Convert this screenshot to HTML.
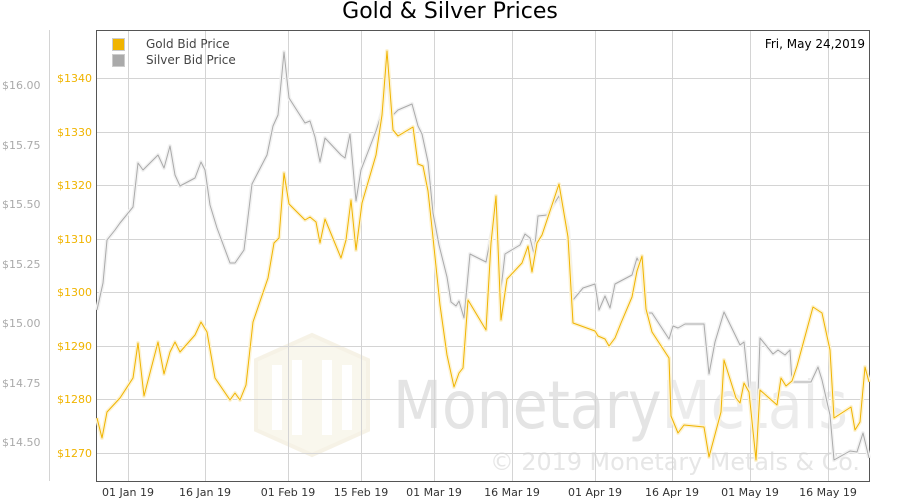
<!DOCTYPE html>
<html><head><meta charset="utf-8"><style>
html,body{margin:0;padding:0;background:#fff;}
svg{display:block;font-family:"DejaVu Sans","Liberation Sans",sans-serif;}
</style></head><body>
<svg width="900" height="500" xmlns="http://www.w3.org/2000/svg">
<rect width="900" height="500" fill="#fff"/>
<text x="450" y="18" text-anchor="middle" font-size="22" fill="#000">Gold &amp; Silver Prices</text>
<g opacity="0.22">
<polygon points="312,335 368,360 368,430 312,455 256,430 256,360" fill="#e8dcb0" stroke="#d8c890" stroke-width="4"/>
<rect x="272" y="365" width="10" height="65" fill="#fff"/><rect x="292" y="360" width="10" height="75" fill="#fff"/><rect x="322" y="360" width="10" height="75" fill="#fff"/><rect x="342" y="365" width="10" height="65" fill="#fff"/>
</g>
<text x="393" y="428" font-size="66" fill="#e4e4e4" textLength="455" lengthAdjust="spacingAndGlyphs">Monetary<tspan fill="#ececec">Metals</tspan></text>
<text x="490" y="470" font-size="24" fill="#e6e6e6" textLength="370" lengthAdjust="spacingAndGlyphs">© 2019 Monetary Metals &amp; Co.</text>
<g stroke="#d4d4d4" stroke-width="1">
<line x1="96" x2="870" y1="78.5" y2="78.5"/><line x1="96" x2="870" y1="132.5" y2="132.5"/><line x1="96" x2="870" y1="185.5" y2="185.5"/><line x1="96" x2="870" y1="239.5" y2="239.5"/><line x1="96" x2="870" y1="292.5" y2="292.5"/><line x1="96" x2="870" y1="346.5" y2="346.5"/><line x1="96" x2="870" y1="399.5" y2="399.5"/><line x1="96" x2="870" y1="453.5" y2="453.5"/>
<line y1="30" y2="481" x1="128.5" x2="128.5"/><line y1="30" y2="481" x1="205.5" x2="205.5"/><line y1="30" y2="481" x1="288.5" x2="288.5"/><line y1="30" y2="481" x1="361.5" x2="361.5"/><line y1="30" y2="481" x1="434.5" x2="434.5"/><line y1="30" y2="481" x1="512.5" x2="512.5"/><line y1="30" y2="481" x1="595.5" x2="595.5"/><line y1="30" y2="481" x1="672.5" x2="672.5"/><line y1="30" y2="481" x1="750.5" x2="750.5"/><line y1="30" y2="481" x1="828.5" x2="828.5"/>
<line x1="49.5" x2="49.5" y1="30" y2="481"/>
</g>
<rect x="96.5" y="30.5" width="773" height="451" fill="none" stroke="#555" stroke-width="1"/>
<g font-size="11" fill="#f0b400" text-anchor="end">
<text x="92" y="82">$1340</text><text x="92" y="136">$1330</text><text x="92" y="189">$1320</text><text x="92" y="243">$1310</text><text x="92" y="296">$1300</text><text x="92" y="350">$1290</text><text x="92" y="403">$1280</text><text x="92" y="457">$1270</text>
</g>
<g font-size="11" fill="#aaa">
<text x="2" y="89">$16.00</text><text x="2" y="149">$15.75</text><text x="2" y="208">$15.50</text><text x="2" y="268">$15.25</text><text x="2" y="327">$15.00</text><text x="2" y="387">$14.75</text><text x="2" y="446">$14.50</text>
</g>
<g font-size="11" fill="#333" text-anchor="middle">
<text x="128" y="496">01 Jan 19</text><text x="205" y="496">16 Jan 19</text><text x="288" y="496">01 Feb 19</text><text x="361" y="496">15 Feb 19</text><text x="434" y="496">01 Mar 19</text><text x="512" y="496">16 Mar 19</text><text x="595" y="496">01 Apr 19</text><text x="672" y="496">16 Apr 19</text><text x="750" y="496">01 May 19</text><text x="828" y="496">16 May 19</text>
</g>
<text x="865" y="48" text-anchor="end" font-size="12" fill="#000">Fri, May 24,2019</text>
<rect x="112.5" y="38.5" width="12" height="12" fill="#f0b400" stroke="#ccc"/>
<rect x="112.5" y="54.5" width="12" height="12" fill="#aaa" stroke="#ccc"/>
<text x="146" y="48" font-size="12" fill="#444">Gold Bid Price</text>
<text x="146" y="64" font-size="12" fill="#444">Silver Bid Price</text>
<g fill="none" stroke-linejoin="round">
<polyline stroke="#f2f2f2" stroke-width="4" points="97,310 103,283 107,240 115,230 120,223 133,207 138,163 143,170 158,155 164,168 170,146 175,175 180,186 195,178 201,162 205,170 210,205 217,228 230,263 235,263 244,250 252,184 267,155 273,126 278,115 284,52 289,98 305,123 310,121 315,137 320,162 325,138 341,155 345,158 350,134 356,201 361,170 376,131 382,112 387,69 392,116 398,110 412,104 418,126 422,134 428,162 433,213 439,245 447,277 451,302 456,306 459,301 464,318 470,254 486,262 491,236 496,215 501,289 505,254 520,245 525,234 530,238 534,254 538,216 547,215 559,196 568,228 573,300 578,294 583,288 595,284 599,310 605,296 610,308 615,284 632,275 637,258 642,268 646,313 652,313 669,339 673,326 678,328 685,324 704,324 709,374 715,342 724,312 740,345 744,342 749,390 756,454 760,338 773,354 778,350 785,355 790,350 792,382 811,382 818,367 822,380 830,415 834,460 850,451 857,452 863,433 869,458"/>
<polyline stroke="#aaa" stroke-width="1" points="97,310 103,283 107,240 115,230 120,223 133,207 138,163 143,170 158,155 164,168 170,146 175,175 180,186 195,178 201,162 205,170 210,205 217,228 230,263 235,263 244,250 252,184 267,155 273,126 278,115 284,52 289,98 305,123 310,121 315,137 320,162 325,138 341,155 345,158 350,134 356,201 361,170 376,131 382,112 387,69 392,116 398,110 412,104 418,126 422,134 428,162 433,213 439,245 447,277 451,302 456,306 459,301 464,318 470,254 486,262 491,236 496,215 501,289 505,254 520,245 525,234 530,238 534,254 538,216 547,215 559,196 568,228 573,300 578,294 583,288 595,284 599,310 605,296 610,308 615,284 632,275 637,258 642,268 646,313 652,313 669,339 673,326 678,328 685,324 704,324 709,374 715,342 724,312 740,345 744,342 749,390 756,454 760,338 773,354 778,350 785,355 790,350 792,382 811,382 818,367 822,380 830,415 834,460 850,451 857,452 863,433 869,458"/>
<polyline stroke="#fdf3d4" stroke-width="4" points="97,418 102,438 107,412 120,398 133,378 138,343 144,396 158,342 164,374 170,352 175,342 180,352 195,335 201,322 207,332 215,378 230,400 235,393 240,400 246,385 253,322 268,278 274,243 279,238 284,173 289,204 305,220 310,217 316,222 320,243 325,219 341,258 346,240 351,200 356,250 362,203 376,155 382,115 387,51 393,130 398,136 413,127 418,164 423,166 428,191 432,228 440,305 447,355 454,387 459,373 463,368 468,300 486,330 491,243 496,196 501,320 507,279 522,263 528,246 532,272 537,243 542,235 559,184 568,237 573,323 595,331 598,336 605,339 609,346 615,338 621,323 632,297 637,271 642,256 646,309 652,332 669,358 671,416 678,433 684,425 704,427 709,457 721,412 724,360 736,398 740,403 744,383 749,392 756,460 760,390 777,405 781,378 786,386 792,381 797,366 813,307 822,313 830,350 834,418 851,407 855,430 860,422 865,367 869,382"/>
<polyline stroke="#f0b400" stroke-width="1" points="97,418 102,438 107,412 120,398 133,378 138,343 144,396 158,342 164,374 170,352 175,342 180,352 195,335 201,322 207,332 215,378 230,400 235,393 240,400 246,385 253,322 268,278 274,243 279,238 284,173 289,204 305,220 310,217 316,222 320,243 325,219 341,258 346,240 351,200 356,250 362,203 376,155 382,115 387,51 393,130 398,136 413,127 418,164 423,166 428,191 432,228 440,305 447,355 454,387 459,373 463,368 468,300 486,330 491,243 496,196 501,320 507,279 522,263 528,246 532,272 537,243 542,235 559,184 568,237 573,323 595,331 598,336 605,339 609,346 615,338 621,323 632,297 637,271 642,256 646,309 652,332 669,358 671,416 678,433 684,425 704,427 709,457 721,412 724,360 736,398 740,403 744,383 749,392 756,460 760,390 777,405 781,378 786,386 792,381 797,366 813,307 822,313 830,350 834,418 851,407 855,430 860,422 865,367 869,382"/>
</g>
</svg>
</body></html>
